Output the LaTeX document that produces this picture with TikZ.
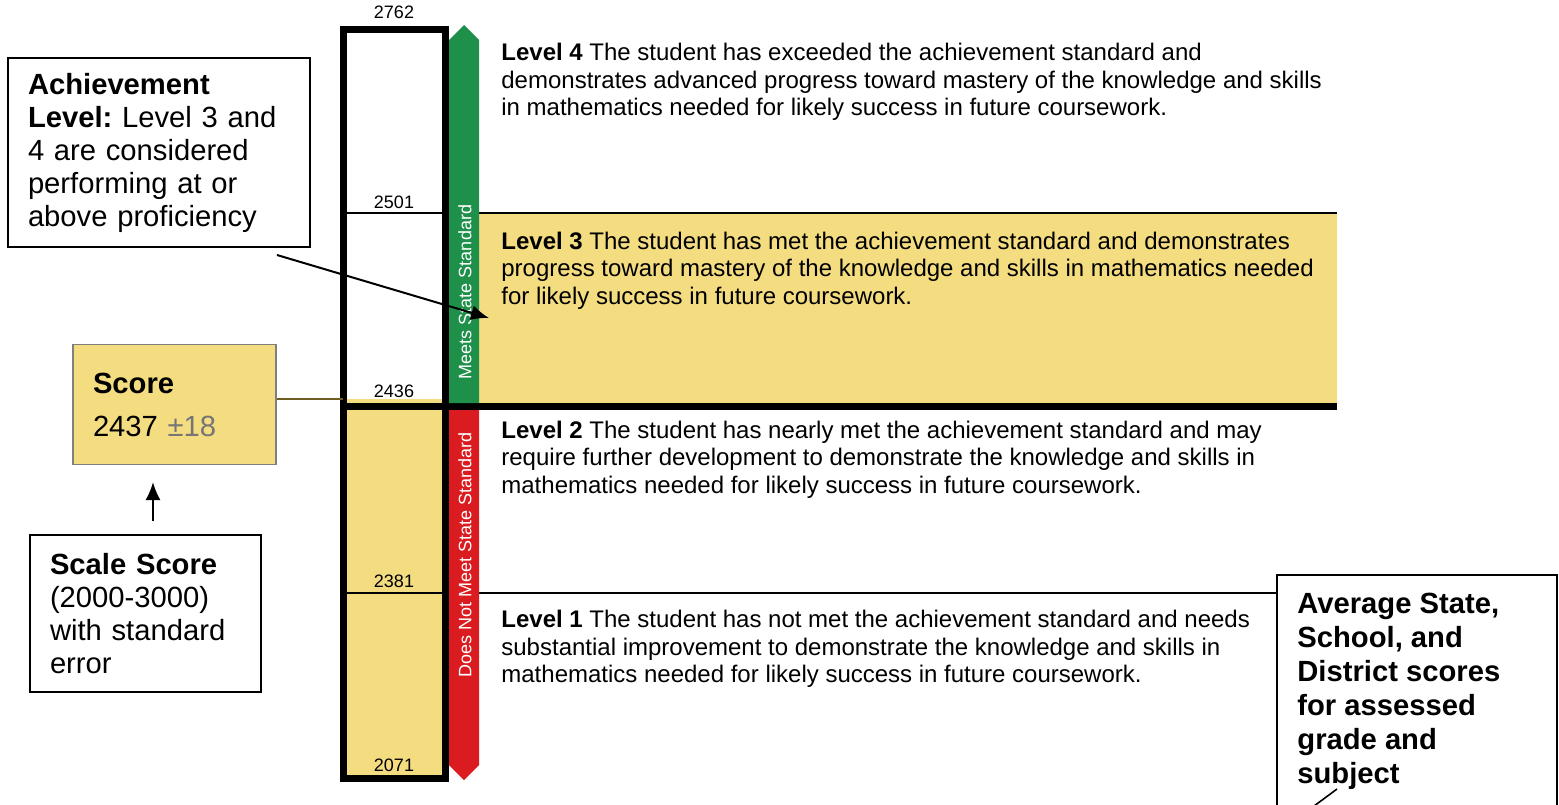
\documentclass[tikz,border=0pt]{standalone}
\usepackage{fontspec}
\setmainfont{Liberation Sans}
\usetikzlibrary{arrows.meta}
\frenchspacing
\definecolor{bandyellow}{HTML}{F4DC80}
\definecolor{metgreen}{HTML}{1E9049}
\definecolor{notred}{HTML}{DA1B1F}
\definecolor{boxgray}{HTML}{7F7F7F}
\definecolor{errgray}{HTML}{767676}
\definecolor{tieolive}{HTML}{6E5E22}

\begin{document}
\begin{tikzpicture}[x=0.5pt,y=-0.5pt,
    leveltext/.style={anchor=north west,inner sep=0pt,align=left,font=\fontsize{12}{13.75}\selectfont},
    cutlabel/.style={anchor=base,inner sep=0pt,font=\fontsize{9}{10}\selectfont},
    ribbon/.style={rotate=90,text=white,inner sep=0pt,font=\fontsize{9}{10}\selectfont},
    callout/.style={draw,line width=0.8pt,fill=white,align=left,inner xsep=10pt,font=\fontsize{14.6}{16.5}\selectfont},
    pointer/.style={line width=1pt,-{Latex[length=9pt,width=7.5pt]}}]
  \useasboundingbox (0,0) rectangle (1559,804);
  \clip (0,0) rectangle (1559,804);

  % yellow band of level 3 and the filled part of the bar
  \fill[bandyellow] (447,213) rectangle (1337,407);
  \fill[bandyellow] (343,399) rectangle (445,778);

  % cut score lines and the bar
  \draw[line width=0.75pt] (343,213) -- (1337,213);
  \draw[line width=0.75pt] (343,593) -- (1277,593);
  \draw[line width=3.5pt] (343,406.5) -- (1337,406.5);
  \draw[line width=3.5pt] (343,29.5) rectangle (445,778);

  % meets / does not meet ribbons
  \fill[metgreen] (449,403) -- (449,40) -- (464,25) -- (479,40) -- (479,403) -- cycle;
  \fill[notred] (449,410) -- (449,765) -- (464,780) -- (479,765) -- (479,410) -- cycle;
  \node[ribbon] (meets) at (465,292) {Meets State Standard};
  \node[ribbon] (notmeet) at (465,555) {Does Not Meet State Standard};

  % cut scores
  \node[cutlabel] (c2762) at (394,18) {2762};
  \node[cutlabel] (c2501) at (394,208) {2501};
  \node[cutlabel] (c2436) at (394,397) {2436};
  \node[cutlabel] (c2381) at (394,587) {2381};
  \node[cutlabel] (c2071) at (394,771) {2071};

  % level descriptions
  \node[leveltext] (lev4) at (501,43) {\textbf{Level 4} The student has exceeded the achievement standard and\\
    demonstrates advanced progress toward mastery of the knowledge and skills\\
    in mathematics needed for likely success in future coursework.};
  \node[leveltext] (lev3) at (501,231.5) {\textbf{Level 3} The student has met the achievement standard and demonstrates\\
    progress toward mastery of the knowledge and skills in mathematics needed\\
    for likely success in future coursework.};
  \node[leveltext] (lev2) at (501,420.5) {\textbf{Level 2} The student has nearly met the achievement standard and may\\
    require further development to demonstrate the knowledge and skills in\\
    mathematics needed for likely success in future coursework.};
  \node[leveltext] (lev1) at (501,610) {\textbf{Level 1} The student has not met the achievement standard and needs\\
    substantial improvement to demonstrate the knowledge and skills in\\
    mathematics needed for likely success in future coursework.};

  % score box and its tie to the bar
  \node[callout,draw=boxgray,line width=0.6pt,fill=bandyellow,minimum width=101.5pt,minimum height=60pt,text width=81.5pt]
    (score) at (174.5,404.5) {\textbf{Score}\\[5pt]2437 \textcolor{errgray}{±18}};
  \coordinate (barleft) at (343,399);
  \draw[tieolive,line width=0.6pt] (barleft -| score.east) -- (barleft);

  % callouts
  \node[callout,minimum width=151pt,minimum height=94.5pt,text width=131pt] (ach) at (159,152.5)
    {\textbf{Achievement}\\\textbf{Level:} Level 3 and\\4 are considered\\performing at or\\above proficiency};
  \coordinate (achtail) at (277,255);
  \coordinate (achhead) at (489,318);
  \draw[pointer] (achtail) -- (achhead);

  \node[callout,minimum width=115.5pt,minimum height=78.5pt,text width=95.5pt] (scale) at (145.5,613.5)
    {\textbf{Scale Score}\\(2000-3000)\\with standard\\error};
  \coordinate (scaletail) at (153,521);
  \coordinate (scalehead) at (153,482);
  \draw[pointer] (scaletail) -- (scalehead);

  \draw[line width=0.8pt,fill=white] (1277,575) rectangle (1557,840);
  \node[anchor=north west,inner sep=0pt,align=left,font=\fontsize{14.6}{17}\selectfont\bfseries] (avg) at (1297,593)
    {Average State,\\School, and\\District scores\\for assessed\\grade and\\subject};
  \coordinate (avgfoot) at (1337,789);
  \coordinate (avgout) at (1310,809);
  \draw[line width=0.8pt] (avgfoot) -- (avgout);
\end{tikzpicture}
\end{document}
